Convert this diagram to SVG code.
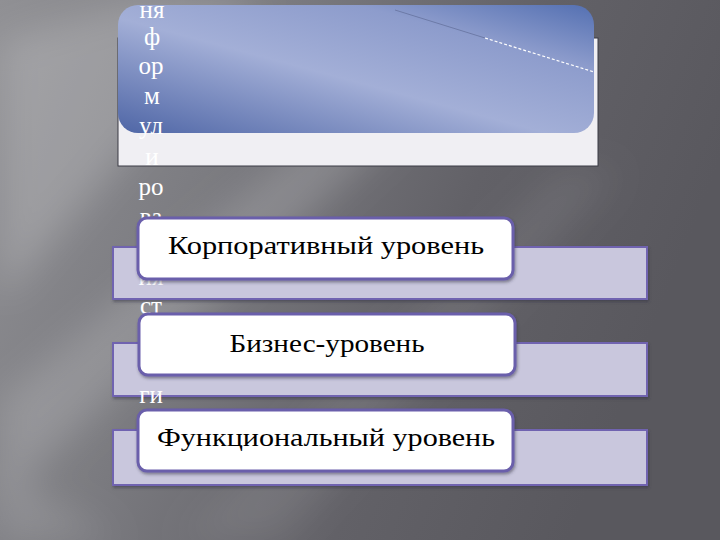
<svg xmlns="http://www.w3.org/2000/svg" width="720" height="540" viewBox="0 0 720 540">
<defs>
<linearGradient id="bg" x1="0" y1="0" x2="1" y2="0.3">
<stop offset="0" stop-color="#909094"/>
<stop offset="0.35" stop-color="#7c7c81"/>
<stop offset="0.7" stop-color="#626167"/>
<stop offset="1" stop-color="#59585e"/>
</linearGradient>
<linearGradient id="blue" x1="0" y1="1" x2="1" y2="0">
<stop offset="0" stop-color="#4f66a6"/>
<stop offset="0.45" stop-color="#a3afd7"/>
<stop offset="0.75" stop-color="#8d9ccc"/>
<stop offset="1" stop-color="#5470b2"/>
</linearGradient>
<filter id="sh" x="-5%" y="-10%" width="110%" height="130%">
<feDropShadow dx="1" dy="2" stdDeviation="1.5" flood-color="#303040" flood-opacity="0.5"/>
</filter>
<filter id="blur" x="-20%" y="-20%" width="140%" height="140%">
<feGaussianBlur stdDeviation="18"/>
</filter>
</defs>
<style>
.band{fill:#c9c7dd;stroke:#6f64b0;stroke-width:2}
.box{fill:#ffffff;stroke:#6a5fab;stroke-width:3}
.lbl{font-family:"Liberation Serif","DejaVu Serif",serif;font-size:26px;fill:#000;text-anchor:middle}
.vt{font-family:"Liberation Serif","DejaVu Serif",serif;font-size:25px;fill:#ffffff;text-anchor:middle}
</style>
<rect width="720" height="540" fill="url(#bg)"/>
<g filter="url(#blur)">
<polygon points="0,40 140,0 260,0 0,300" fill="#ffffff" opacity="0.18"/>
<polygon points="0,400 320,130 400,130 0,500" fill="#ffffff" opacity="0.16"/>
<polygon points="180,540 560,170 620,170 280,540" fill="#ffffff" opacity="0.08"/>
<polygon points="0,540 0,470 120,540" fill="#ffffff" opacity="0.12"/>
</g>

<g id="top-panel">
<rect x="118" y="38" width="480" height="128" fill="#f0eff3" stroke="#3a3a44" stroke-width="1"/>
<rect x="118" y="5" width="476" height="128" rx="20" fill="url(#blue)"/>
<line x1="395" y1="10" x2="485" y2="38" stroke="#5a6690" stroke-width="1" opacity="0.6"/>
<line x1="485" y1="38" x2="594" y2="72" stroke="#ffffff" stroke-width="1.2" stroke-dasharray="3,2"/>
</g>

<g id="band1"><rect class="band" x="113" y="247" width="534" height="52" filter="url(#sh)"/></g>
<g id="band2"><rect class="band" x="113" y="343" width="534" height="53" filter="url(#sh)"/></g>
<g id="band3"><rect class="band" x="113" y="430" width="534" height="55" filter="url(#sh)"/></g>

<g id="vertical-text">
<text class="vt" x="152" y="18">ня</text>
<text class="vt" x="152" y="45">ф</text>
<text class="vt" x="151" y="74">ор</text>
<text class="vt" x="152" y="104" font-size="20">м</text>
<text class="vt" x="151" y="134">ул</text>
<text class="vt" x="152" y="165" fill="#e6e6ee">и</text>
<text class="vt" x="151" y="195">ро</text>
<text class="vt" x="151" y="225">ва</text>
<text class="vt" x="151" y="255">н</text>
<text class="vt" x="151" y="285" fill="#e8e6f4">ия</text>
<text class="vt" x="151" y="314">ст</text>
<text class="vt" x="151" y="343">р</text>
<text class="vt" x="151" y="373">а</text>
<text class="vt" x="151" y="403">ги</text>
<text class="vt" x="151" y="433">и</text>
</g>

<g id="corporate">
<rect class="box" x="138" y="218" width="375" height="61" rx="9" filter="url(#sh)"/>
<text class="lbl" x="326" y="254" textLength="316" lengthAdjust="spacingAndGlyphs">Корпоративный уровень</text>
</g>
<g id="business">
<rect class="box" x="139" y="314" width="376" height="61" rx="9" filter="url(#sh)"/>
<text class="lbl" x="327" y="352" textLength="195" lengthAdjust="spacingAndGlyphs">Бизнес-уровень</text>
</g>
<g id="functional">
<rect class="box" x="138" y="410" width="375" height="61" rx="9" filter="url(#sh)"/>
<text class="lbl" x="326" y="446" textLength="338" lengthAdjust="spacingAndGlyphs">Функциональный уровень</text>
</g>
<g id="connectors"/>
</svg>
